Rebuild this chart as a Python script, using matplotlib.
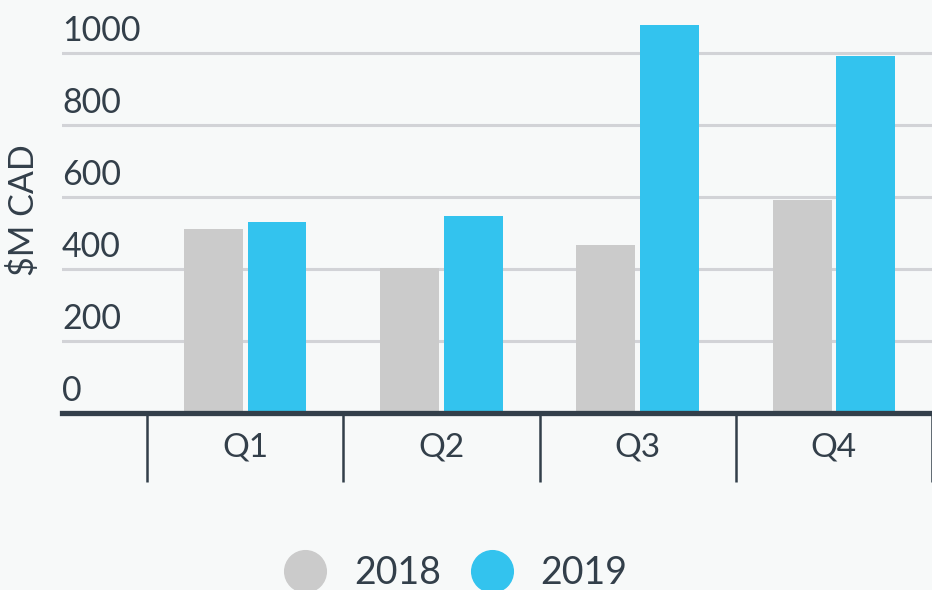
import numpy as np
import matplotlib
matplotlib.use("Agg")
import matplotlib.pyplot as plt
from matplotlib.lines import Line2D
import matplotlib.transforms as mtransforms

# data
quarters = ["Q1", "Q2", "Q3", "Q4"]
sales_2018 = [511, 403, 467, 592]
sales_2019 = [531, 547, 1078, 992]
series_names = ["2018", "2019"]
y_ticks = [0, 200, 400, 600, 800, 1000]

bg = "#f7f9f9"
dark = "#333f4a"
grey = "#cbcbcb"
blue = "#33c3ee"
grid_col = "#d2d3d7"

plt.rcParams["font.family"] = ["Lato", "DejaVu Sans"]

fig = plt.figure(figsize=(9.32, 5.9), dpi=100, facecolor=bg)
ax = fig.add_axes([62 / 932, 1 - 413 / 590, 870 / 932, 413 / 590], facecolor=bg)

x = np.arange(len(quarters))
w = 0.3
ax.bar(x - 0.162, sales_2018, width=w, color=grey, zorder=2)
ax.bar(x + 0.162, sales_2019, width=w, color=blue, zorder=2)

ax.set_xlim(-0.934, 3.47)
ax.set_ylim(0, 413 / 0.36)

# horizontal grid, labels sitting on top of each line
ax.set_yticks(y_ticks)
ax.yaxis.grid(True, color=grid_col, linewidth=2.2, zorder=0)
ax.tick_params(axis="y", length=0, labelleft=False)
trans = mtransforms.blended_transform_factory(ax.transAxes, ax.transData)
for t in y_ticks:
    ax.annotate(str(t), xy=(0, t), xycoords=trans, xytext=(0, 8.5),
                textcoords="offset points", ha="left", va="baseline",
                fontsize=24.5, color=dark)

# category separators as major ticks, quarter names as minor ticks
ax.set_xticks(np.arange(-0.5, len(quarters)), labels=[])
ax.set_xticks(x, labels=quarters, minor=True)
ax.tick_params(axis="x", which="major", length=50, width=1.8, color=dark, direction="out")
ax.tick_params(axis="x", which="minor", length=0, pad=14, labelsize=24, labelcolor=dark)

for side in ["top", "right", "left"]:
    ax.spines[side].set_visible(False)
ax.spines["bottom"].set_color(dark)
ax.spines["bottom"].set_linewidth(3.8)
ax.spines["bottom"].set_zorder(3)

fig.text(24 / 932, 1 - 210 / 590, r"\$M CAD", rotation=90, ha="center", va="center",
         fontsize=24.5, color=dark)

handles = [Line2D([], [], marker="o", linestyle="none", markersize=30,
                  markerfacecolor=c, markeredgecolor=c) for c in (grey, blue)]
leg = fig.legend(handles, series_names, loc="center", bbox_to_anchor=(456 / 932, 1 - 573 / 590),
                 ncol=2, frameon=False, fontsize=27, handlelength=1.1, handletextpad=0.75,
                 columnspacing=0.8, labelcolor=dark)

fig.savefig("out.png", dpi=100, facecolor=bg)
